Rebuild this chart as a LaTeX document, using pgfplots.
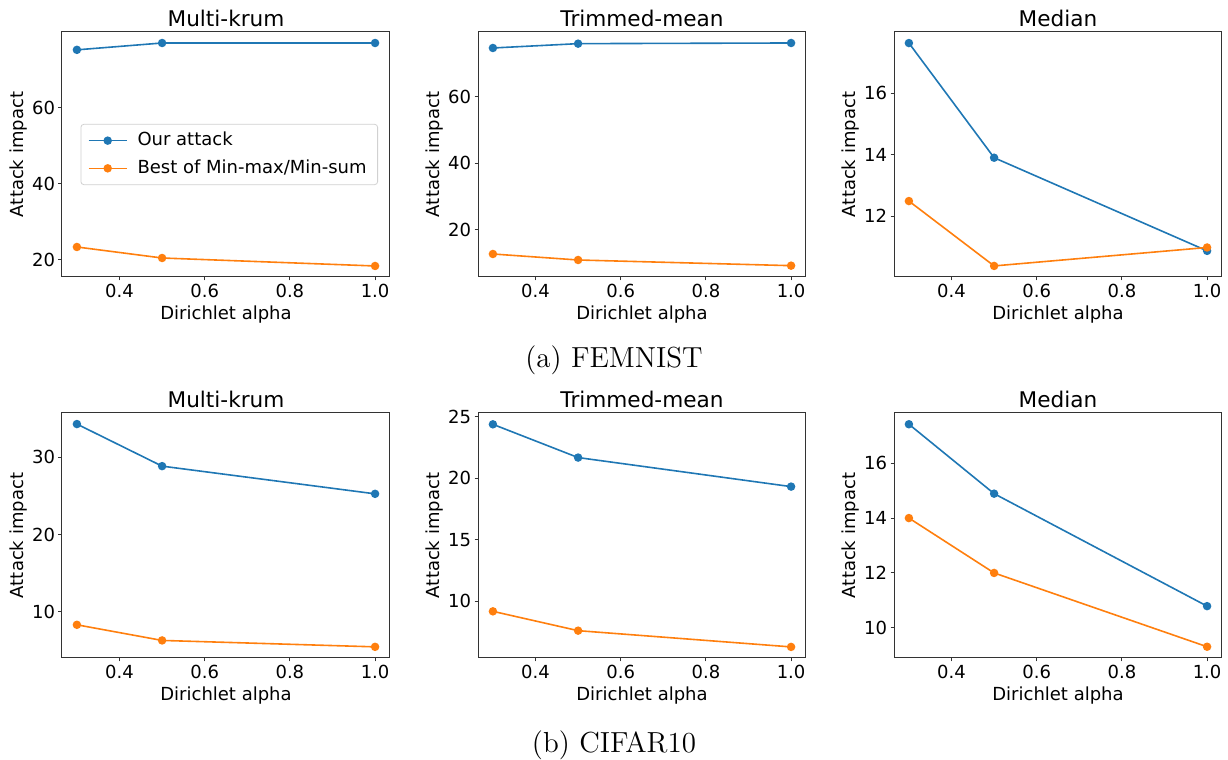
\documentclass[border=0pt]{standalone}
\usepackage{fontspec}
\setsansfont{DejaVu Sans}
\usepackage{pgfplots}
\pgfplotsset{compat=1.18}
\definecolor{tabblue}{HTML}{1F77B4}
\definecolor{taborange}{HTML}{FF7F0E}
\newcommand{\chartfont}{\sffamily\fontsize{9}{10.8}\selectfont}

\pgfplotsset{
  panel/.style={
    scale only axis, width=164pt, height=122.5pt,
    xmin=0.265, xmax=1.035,
    xtick={0.4,0.6,0.8,1.0},
    axis line style={black!80, line width=0.5pt},
    tick style={black!80, line width=0.5pt},
    tick align=outside, major tick length=1.75pt,
    xtick pos=bottom, ytick pos=left,
    /pgf/number format/assume math mode=true,
    every tick label/.append style={font=\chartfont, inner sep=1.5pt},
    x tick label style={/pgf/number format/fixed, /pgf/number format/fixed zerofill, /pgf/number format/precision=1},
    y tick label style={/pgf/number format/fixed, /pgf/number format/precision=0},
    xlabel={Dirichlet alpha}, ylabel={Attack impact},
    every axis x label/.style={at={(axis description cs:0.5,-0.174)}, anchor=base, font=\chartfont},
    every axis y label/.style={at={(axis description cs:-0.117,0.5)}, rotate=90, anchor=base, font=\chartfont},
    every axis title/.style={at={(axis description cs:0.5,1.0216)}, anchor=base, font=\sffamily\fontsize{10.8}{13}\selectfont},
  },
  ours/.style={tabblue, line width=0.8pt, mark=*, mark size=1.7pt, mark options={fill=tabblue, draw=tabblue}},
  best/.style={taborange, line width=0.8pt, mark=*, mark size=1.7pt, mark options={fill=taborange, draw=taborange}},
}

\begin{document}
\begin{tikzpicture}
\useasboundingbox (0,0) rectangle (614pt,380pt);

% (a) FEMNIST
\begin{axis}[panel, at={(31pt,241.5pt)}, anchor=south west,
  title={Multi-krum}, ymin=15.5, ymax=80, ytick={20,40,60},
  legend style={at={(axis description cs:0.51,0.5)}, anchor=center, draw=black!18, rounded corners=1.5pt,
    font=\chartfont, cells={anchor=west}, inner xsep=3.5pt, inner ysep=2pt, row sep=1.5pt,
    /tikz/every odd column/.append style={column sep=3pt}},
  legend image code/.code={\draw[mark repeat=2,mark phase=2] plot coordinates {(0pt,0pt) (9.5pt,0pt) (19pt,0pt)};}]
\addplot[ours] coordinates {(0.3,75.3) (0.5,77.1) (1.0,77.1)};
\addplot[best] coordinates {(0.3,23.4) (0.5,20.5) (1.0,18.4)};
\legend{Our attack, Best of Min-max/Min-sum}
\end{axis}

\begin{axis}[panel, at={(239pt,241.5pt)}, anchor=south west,
  title={Trimmed-mean}, ymin=5.9, ymax=79.4, ytick={20,40,60}]
\addplot[ours] coordinates {(0.3,74.6) (0.5,75.9) (1.0,76.1)};
\addplot[best] coordinates {(0.3,12.8) (0.5,11.0) (1.0,9.3)};
\end{axis}

\begin{axis}[panel, at={(447pt,241.5pt)}, anchor=south west,
  title={Median}, ymin=10.02, ymax=17.99, ytick={12,14,16}]
\addplot[ours] coordinates {(0.3,17.63) (0.5,13.9) (1.0,10.87)};
\addplot[best] coordinates {(0.3,12.49) (0.5,10.38) (1.0,10.98)};
\end{axis}

\node[anchor=base, font=\fontsize{14.5}{17}\selectfont] at (307pt,196pt) {(a) FEMNIST};

% (b) CIFAR10
\begin{axis}[panel, at={(31pt,51pt)}, anchor=south west,
  title={Multi-krum}, ymin=4.03, ymax=35.7, ytick={10,20,30}]
\addplot[ours] coordinates {(0.3,34.27) (0.5,28.83) (1.0,25.25)};
\addplot[best] coordinates {(0.3,8.32) (0.5,6.3) (1.0,5.47)};
\end{axis}

\begin{axis}[panel, at={(239pt,51pt)}, anchor=south west,
  title={Trimmed-mean}, ymin=5.4, ymax=25.3, ytick={10,15,20,25}]
\addplot[ours] coordinates {(0.3,24.38) (0.5,21.68) (1.0,19.32)};
\addplot[best] coordinates {(0.3,9.19) (0.5,7.62) (1.0,6.3)};
\end{axis}

\begin{axis}[panel, at={(447pt,51pt)}, anchor=south west,
  title={Median}, ymin=8.9, ymax=17.83, ytick={10,12,14,16}]
\addplot[ours] coordinates {(0.3,17.42) (0.5,14.89) (1.0,10.79)};
\addplot[best] coordinates {(0.3,14.0) (0.5,12.0) (1.0,9.31)};
\end{axis}

\node[anchor=base, font=\fontsize{14.5}{17}\selectfont] at (307pt,3.85pt) {(b) CIFAR10};
\end{tikzpicture}
\end{document}
